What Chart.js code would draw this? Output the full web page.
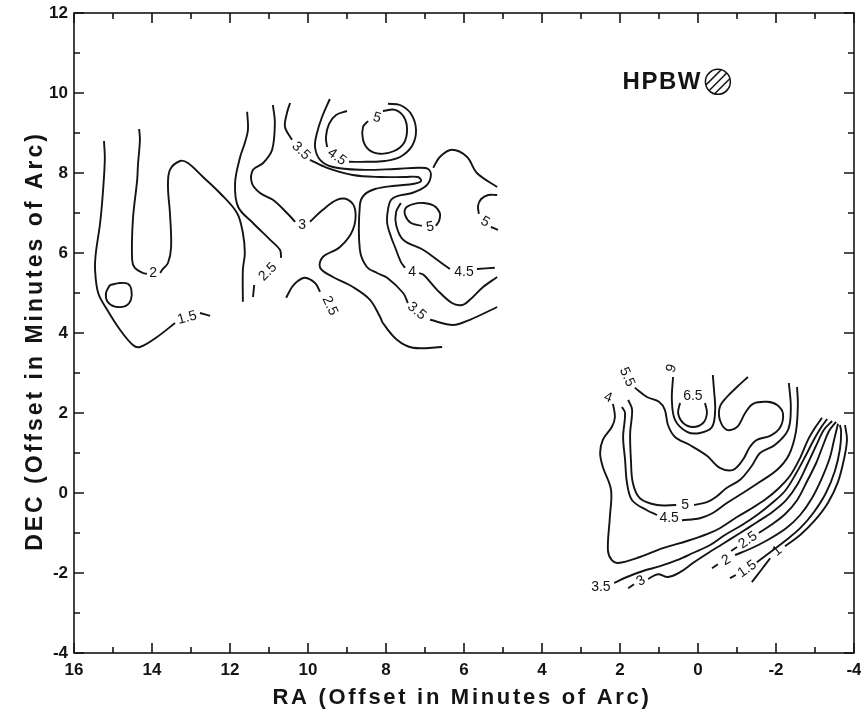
<!DOCTYPE html>
<html>
<head>
<meta charset="utf-8">
<script src="https://cdn.jsdelivr.net/npm/chart.js@4.4.1/dist/chart.umd.min.js"></script>
<style>
  html, body { margin: 0; padding: 0; background: #fff; }
</style>
</head>
<body>
<canvas id="contourChart" width="861" height="716"></canvas>
<script>
// contour segments as [RA, DEC] (minutes of arc offset); a label sits in each gap
const c15a = [[15.23,8.80],[15.21,8.33],[15.26,7.50],[15.33,6.75],[15.44,6.00],[15.46,5.58],[15.38,5.00],[15.15,4.58],[14.82,4.08],[14.49,3.70],[14.31,3.65],[13.87,3.90],[13.41,4.25]];
const c15b = [[12.77,4.50],[12.51,4.43]];
const c20loop = [[15.08,5.20],[14.82,5.25],[14.62,5.23],[14.53,5.08],[14.54,4.83],[14.67,4.68],[14.95,4.66],[15.14,4.78],[15.18,5.00],[15.08,5.20]];
const c20a = [[14.33,9.10],[14.31,8.83],[14.36,8.20],[14.38,7.83],[14.49,6.83],[14.51,5.83],[14.44,5.63],[14.23,5.50],[14.13,5.48]];
const c20b = [[13.79,5.50],[13.74,5.58],[13.59,5.75],[13.51,6.15],[13.54,7.00],[13.59,7.65],[13.54,8.08],[13.28,8.30],[13.08,8.25],[12.69,7.90],[12.26,7.50],[11.82,7.00],[11.67,6.50],[11.62,6.00],[11.67,5.58],[11.67,4.78]];
const c25a = [[11.56,9.53],[11.54,9.08],[11.62,8.75],[11.74,8.40],[11.87,7.75],[11.79,7.15],[11.41,6.75],[10.97,6.33],[10.72,6.08],[10.69,5.88]];
const c25b = [[11.38,5.20],[11.41,4.90]];
const c25c = [[10.56,4.88],[10.41,5.15],[10.26,5.30],[10.08,5.38],[9.82,5.25],[9.69,5.03]];
const c30a = [[10.90,9.70],[10.85,9.25],[10.92,8.58],[11.15,8.25],[11.41,8.08],[11.44,7.75],[11.23,7.50],[10.90,7.33],[10.54,7.00],[10.33,6.78]];
const c30b = [[9.95,6.78],[9.62,7.08],[9.26,7.33],[8.97,7.33],[8.79,7.08],[8.85,6.58],[9.18,6.15],[9.62,5.90],[9.69,5.63],[9.36,5.40],[8.85,5.15],[8.41,4.83],[8.15,4.40],[8.08,4.25],[7.72,3.83],[7.31,3.63],[6.56,3.65]];
const c35a = [[10.46,9.75],[10.54,9.50],[10.59,9.15],[10.41,8.83]];
const c35b = [[9.95,8.33],[9.51,8.13],[8.85,7.95],[8.15,7.90],[7.51,7.90],[7.18,7.90],[7.10,7.80],[7.28,7.73],[7.77,7.68],[8.28,7.60],[8.56,7.45],[8.67,7.20],[8.67,6.08],[8.49,5.65],[8.23,5.50],[7.97,5.38],[7.56,5.00],[7.44,4.75]];
const c35c = [[6.87,4.33],[6.28,4.20],[5.85,4.33],[5.15,4.65]];
const c40a = [[9.44,9.85],[9.64,9.40],[9.77,9.00],[9.82,8.65],[9.69,8.33],[9.36,8.15],[8.67,8.08],[7.77,8.10],[7.18,8.13],[6.92,8.10],[6.85,7.93],[6.97,7.68],[7.33,7.50],[7.69,7.43],[7.87,7.33],[7.95,7.08],[7.97,6.75],[7.87,6.40],[7.77,6.15],[7.62,5.78],[7.51,5.63]];
const c40b = [[7.15,5.50],[7.03,5.45],[6.69,5.08],[6.31,4.75],[6.05,4.70],[5.85,4.83],[5.51,5.15],[5.15,5.40]];
const c45a = [[9.00,9.55],[9.28,9.45],[9.46,9.23],[9.54,8.90],[9.51,8.65]];
const c45b = [[8.95,8.28],[8.49,8.28],[8.03,8.30],[7.64,8.40],[7.33,8.68],[7.23,9.08],[7.36,9.48],[7.64,9.70],[7.95,9.73]];
const c45c = [[6.79,8.13],[6.62,8.40],[6.31,8.58],[5.92,8.40],[5.67,8.00],[5.15,7.65]];
const c45d = [[7.62,7.25],[7.74,7.03],[7.74,6.70],[7.56,6.33],[7.05,6.08],[6.69,5.83],[6.36,5.60]];
const c45e = [[5.67,5.60],[5.21,5.63]];
const c50loopA = [[8.08,9.55],[7.77,9.58],[7.54,9.40],[7.46,9.08],[7.54,8.75],[7.79,8.55],[8.15,8.48],[8.44,8.58],[8.59,8.83],[8.59,9.15],[8.46,9.30]];
const c50loopB = [[7.08,6.68],[7.36,6.75],[7.51,6.95],[7.49,7.13],[7.28,7.23],[7.03,7.25],[6.77,7.18],[6.62,7.00],[6.64,6.80],[6.72,6.68]];
const c50c = [[5.15,7.45],[5.38,7.45],[5.56,7.35],[5.64,7.18],[5.62,6.98]];
const c50d = [[5.31,6.65],[5.13,6.58]];

const c60 = [[0.64,2.90],[0.67,2.33],[0.59,1.83],[0.28,1.53],[-0.05,1.50],[-0.36,1.65],[-0.44,2.08],[-0.41,2.58],[-0.38,2.95]];
const c65 = [[0.46,2.25],[0.51,2.00],[0.38,1.75],[0.13,1.65],[-0.13,1.75],[-0.23,2.00],[-0.18,2.25]];
const c55 = [[1.62,2.63],[1.31,2.40],[1.00,2.28],[0.85,2.08],[0.77,1.70],[0.59,1.40],[0.21,1.20],[-0.23,0.93],[-0.56,0.63],[-0.90,0.58],[-1.15,0.83],[-1.33,1.15],[-1.51,1.33],[-1.85,1.43],[-2.10,1.63],[-2.18,1.98],[-2.03,2.20],[-1.77,2.28],[-1.41,2.23],[-1.21,2.00],[-1.00,1.65],[-0.74,1.58],[-0.56,1.83],[-0.56,2.15],[-0.74,2.40],[-1.00,2.65],[-1.28,2.90]];
const c50e = [[1.79,2.33],[1.69,2.08],[1.74,1.50],[1.72,0.83],[1.67,0.25],[1.49,-0.13],[1.05,-0.30],[0.56,-0.30]];
const c50f = [[0.10,-0.30],[-0.23,-0.23],[-0.46,-0.10],[-0.74,0.13],[-1.08,0.33],[-1.38,0.68],[-1.59,1.00],[-1.97,1.20],[-2.31,1.58],[-2.38,2.13],[-2.33,2.75]];
const c45f = [[1.95,2.15],[1.87,2.00],[1.92,1.40],[1.87,0.83],[1.82,0.25],[1.69,-0.18],[1.31,-0.43],[1.05,-0.55]];
const c45g = [[0.41,-0.68],[-0.05,-0.63],[-0.38,-0.50],[-0.74,-0.25],[-1.15,0.00],[-1.59,0.28],[-2.03,0.58],[-2.33,0.95],[-2.51,1.53],[-2.56,2.20],[-2.54,2.65]];
const c40c = [[2.18,2.23],[2.13,1.90],[2.21,1.65],[2.44,1.33],[2.51,1.00],[2.44,0.65],[2.23,0.08],[2.26,-0.60],[2.31,-1.43],[2.21,-1.68],[2.05,-1.75],[1.49,-1.60],[0.90,-1.38],[0.28,-1.20],[-0.23,-1.03],[-0.56,-0.88],[-1.00,-0.60],[-1.38,-0.38],[-1.74,-0.15],[-2.05,0.10],[-2.36,0.43],[-2.62,0.88],[-2.82,1.33],[-3.00,1.63],[-3.18,1.88]];
const c35d = [[2.15,-2.25],[1.82,-2.10],[1.41,-1.95],[0.97,-1.83],[0.54,-1.68],[0.13,-1.50],[-0.31,-1.30],[-0.69,-1.05],[-1.13,-0.80],[-1.54,-0.53],[-1.90,-0.25],[-2.23,0.05],[-2.51,0.48],[-2.77,0.95],[-2.97,1.33],[-3.15,1.63],[-3.31,1.85]];
const c30c = [[1.79,-2.38],[1.64,-2.28]];
const c30d = [[1.28,-2.15],[1.03,-2.03],[0.77,-2.10],[0.46,-1.98],[0.13,-1.75],[-0.21,-1.53],[-0.62,-1.28],[-1.08,-1.00],[-1.51,-0.73],[-1.90,-0.48],[-2.26,-0.18],[-2.56,0.23],[-2.82,0.75],[-3.05,1.23],[-3.23,1.58],[-3.44,1.80]];
const c25d = [[-0.85,-1.45],[-1.00,-1.35]];
const c25e = [[-1.56,-1.00],[-1.87,-0.80],[-2.23,-0.53],[-2.54,-0.18],[-2.79,0.28],[-3.03,0.75],[-3.21,1.20],[-3.36,1.55],[-3.54,1.78]];
const c20c = [[-0.36,-1.88],[-0.51,-1.78]];
const c20d = [[-0.95,-1.55],[-1.33,-1.40],[-1.74,-1.20],[-2.26,-0.88],[-2.62,-0.55],[-2.92,-0.13],[-3.18,0.38],[-3.38,0.88],[-3.49,1.33],[-3.59,1.73]];
const c15c = [[-0.82,-2.13],[-0.97,-2.05]];
const c15d = [[-1.51,-1.73],[-1.85,-1.48],[-2.23,-1.20],[-2.62,-0.88],[-2.97,-0.48],[-3.28,0.00],[-3.51,0.55],[-3.64,1.10],[-3.67,1.53],[-3.64,1.70]];
const c10a = [[-1.38,-2.23],[-1.64,-1.90],[-1.85,-1.63]];
const c10b = [[-2.23,-1.33],[-2.62,-1.05],[-3.00,-0.68],[-3.33,-0.25],[-3.59,0.28],[-3.74,0.83],[-3.82,1.33],[-3.77,1.70]];

const contourSegments = [
  c15a, c15b, c20loop, c20a, c20b, c25a, c25b, c25c, c30a, c30b, c35a, c35b, c35c,
  c40a, c40b, c45a, c45b, c45c, c45d, c45e, c50loopA, c50loopB, c50c, c50d,
  c60, c65, c55, c50e, c50f, c45f, c45g, c40c, c35d, c30c, c30d, c25d, c25e,
  c20c, c20d, c15c, c15d, c10a, c10b
];

// contour level labels
const labelText = ["1.5","2","2.5","3","2.5","3.5","4.5","5","5","5","4","4.5","3.5","6","6.5","5.5","4","5","4.5","3.5","3","2.5","2","1.5","1"];
const labelRA   = [13.10,13.97,11.03,10.15,9.44,10.18,9.26,8.23,6.87,5.46,7.33,6.00,7.21,0.72,0.13,1.82,2.31,0.33,0.74,2.49,1.46,-1.28,-0.72,-1.26,-2.03];
const labelDEC  = [4.38,5.50,5.53,6.70,4.68,8.55,8.40,9.38,6.65,6.78,5.53,5.53,4.55,3.13,2.43,2.90,2.38,-0.30,-0.63,-2.35,-2.20,-1.18,-1.68,-1.90,-1.45];
const labelTilt = [-15,0,-45,0,65,45,35,15,-10,30,0,0,40,110,0,65,20,0,0,0,-30,-35,-30,-35,-40];

// beam (HPBW) marker position
const beamRA = -0.51;
const beamDEC = 10.28;

const xTitle = "RA (Offset in Minutes of Arc)";
const yTitle = "DEC (Offset in Minutes of Arc)";

const FONT = "'Liberation Sans', Arial, Helvetica, sans-serif";
const INK = "#141414";

const datasets = contourSegments.map((seg) => ({
  data: seg.map((p) => ({ x: p[0], y: p[1] })),
  showLine: true,
  borderColor: INK,
  borderWidth: 1.9,
  pointRadius: 0,
  tension: 0.35,
  fill: false,
}));

const framePlugin = {
  id: "frame",
  afterDatasetsDraw(chart) {
    const ctx = chart.ctx;
    const a = chart.chartArea;
    const xs = chart.scales.x;
    const ys = chart.scales.y;
    ctx.save();
    ctx.strokeStyle = INK;
    ctx.lineWidth = 1.6;
    ctx.strokeRect(a.left, a.top, a.right - a.left, a.bottom - a.top);

    // ticks pointing inward on all four sides
    for (let v = -4; v <= 16; v++) {
      const len = v % 2 === 0 ? 10 : 6;
      const px = xs.getPixelForValue(v);
      ctx.beginPath();
      ctx.moveTo(px, a.bottom); ctx.lineTo(px, a.bottom - len);
      ctx.moveTo(px, a.top); ctx.lineTo(px, a.top + len);
      ctx.stroke();
    }
    for (let v = -4; v <= 12; v++) {
      const len = v % 2 === 0 ? 10 : 6;
      const py = ys.getPixelForValue(v);
      ctx.beginPath();
      ctx.moveTo(a.left, py); ctx.lineTo(a.left + len, py);
      ctx.moveTo(a.right, py); ctx.lineTo(a.right - len, py);
      ctx.stroke();
    }

    // contour labels
    ctx.fillStyle = INK;
    ctx.font = "14px " + FONT;
    ctx.textAlign = "center";
    ctx.textBaseline = "middle";
    labelText.forEach((t, i) => {
      ctx.save();
      ctx.translate(xs.getPixelForValue(labelRA[i]), ys.getPixelForValue(labelDEC[i]));
      ctx.rotate(labelTilt[i] * Math.PI / 180);
      ctx.fillText(t, 0, 0);
      ctx.restore();
    });

    // HPBW beam
    const bx = xs.getPixelForValue(beamRA);
    const by = ys.getPixelForValue(beamDEC);
    const r = 12.5;
    ctx.font = "bold 24px " + FONT;
    if ("letterSpacing" in ctx) ctx.letterSpacing = "1.5px";
    ctx.textAlign = "right";
    ctx.textBaseline = "middle";
    ctx.fillText("HPBW", bx - 16, by + 1);
    if ("letterSpacing" in ctx) ctx.letterSpacing = "0px";
    ctx.lineWidth = 1.5;
    ctx.beginPath();
    ctx.arc(bx, by, r, 0, Math.PI * 2);
    ctx.stroke();
    ctx.save();
    ctx.clip();
    for (let k = -2; k <= 2; k++) {
      const ox = bx + k * 6.2 / Math.SQRT2;
      const oy = by + k * 6.2 / Math.SQRT2;
      ctx.beginPath();
      ctx.moveTo(ox - 20, oy + 20);
      ctx.lineTo(ox + 20, oy - 20);
      ctx.stroke();
    }
    ctx.restore();

    // axis titles
    ctx.font = "bold 22px " + FONT;
    if ("letterSpacing" in ctx) ctx.letterSpacing = "2.7px";
    ctx.textAlign = "center";
    ctx.textBaseline = "alphabetic";
    ctx.fillText(xTitle, (a.left + a.right) / 2 - 2, a.bottom + 51);
    ctx.font = "bold 23px " + FONT;
    if ("letterSpacing" in ctx) ctx.letterSpacing = "3px";
    ctx.save();
    ctx.translate(a.left - 32, (a.top + a.bottom) / 2 + 8);
    ctx.rotate(-Math.PI / 2);
    ctx.fillText(yTitle, 0, 0);
    ctx.restore();
    ctx.restore();
  },
};

const tickFont = { family: FONT, size: 17, weight: "bold" };

new Chart(document.getElementById("contourChart").getContext("2d"), {
  type: "scatter",
  data: { datasets: datasets },
  options: {
    responsive: false,
    animation: false,
    devicePixelRatio: 1,
    layout: { padding: { top: 13, right: 7, left: 0, bottom: 0 } },
    plugins: { legend: { display: false }, tooltip: { enabled: false } },
    scales: {
      x: {
        type: "linear",
        min: -4,
        max: 16,
        reverse: true,
        grid: { display: false, drawTicks: false },
        border: { display: false },
        ticks: { stepSize: 2, color: INK, font: tickFont, padding: 7, maxRotation: 0 },
        afterFit: (s) => { s.height = 63; s.paddingLeft = 0; s.paddingRight = 0; },
      },
      y: {
        type: "linear",
        min: -4,
        max: 12,
        grid: { display: false, drawTicks: false },
        border: { display: false },
        ticks: { stepSize: 2, color: INK, font: tickFont, padding: 6 },
        afterFit: (s) => { s.width = 74; s.paddingTop = 0; s.paddingBottom = 0; },
      },
    },
  },
  plugins: [framePlugin],
});
</script>
</body>
</html>
